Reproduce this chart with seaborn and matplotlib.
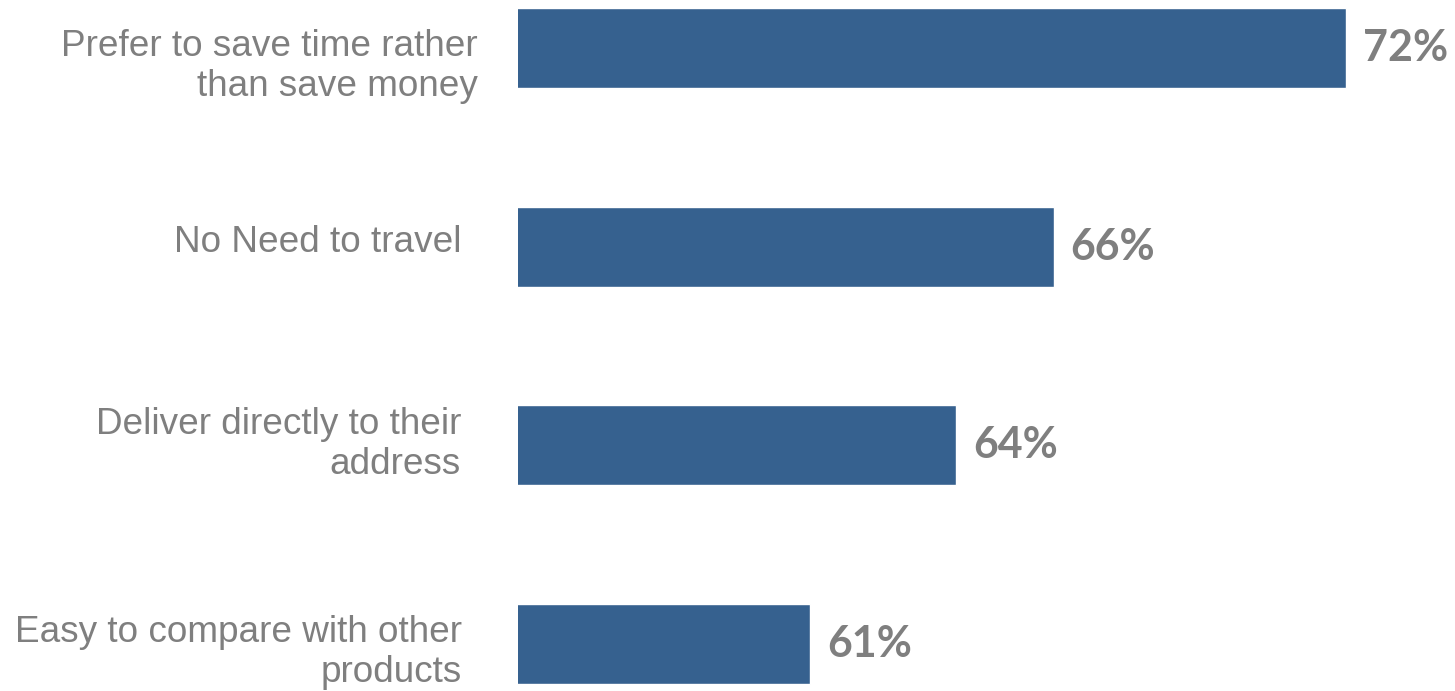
import matplotlib
matplotlib.use("Agg")
import matplotlib.pyplot as plt
import seaborn as sns
import pandas as pd

# Survey data: reasons for shopping online
reasons = [
    "Prefer to save time rather\nthan save money",
    "No Need to travel",
    "Deliver directly to their\naddress",
    "Easy to compare with other\nproducts",
]
shares = [72, 66, 64, 61]

df = pd.DataFrame({"reason": reasons, "share": shares})

BAR_COLOR = "#36618F"
TEXT_COLOR = "#7F7F7F"
DPI = 100
W, H = 1455, 691

sns.set_theme(style="white")
plt.rcParams["font.family"] = ["Liberation Sans", "DejaVu Sans"]

fig = plt.figure(figsize=(W / DPI, H / DPI), dpi=DPI)
left_px = 518
ax = fig.add_axes([left_px / W, 0, 1 - left_px / W, 1])

sns.barplot(data=df, x="share", y="reason", orient="h", color=BAR_COLOR,
            saturation=1, width=0.4026, ax=ax)

ax.set_xlim(55, 74.24)
ax.set_ylim(3.2365, -0.2416)
ax.set_axis_off()

# category labels left of the bars; offsets (pixels) anchor the last line's baseline
label_dx = [-40, -56, -57, -56]
label_dy = [-48, -5, -29, -38]
x0 = ax.get_xlim()[0]
for i, (txt, dx, dy) in enumerate(zip(reasons, label_dx, label_dy)):
    ax.annotate(txt, xy=(x0, i), xytext=(dx, dy), textcoords="offset pixels",
                ha="right", va="baseline", fontsize=26.6, color=TEXT_COLOR,
                linespacing=1.2, annotation_clip=False)

# value labels at the end of each bar
for i, v in enumerate(shares):
    ax.annotate(f"{v}%", xy=(v, i), xytext=(17, 0), textcoords="offset pixels",
                ha="left", va="center", fontsize=31, fontweight="bold",
                family=["Lato", "DejaVu Sans"], color=TEXT_COLOR,
                annotation_clip=False)

fig.savefig("out.png", dpi=DPI)
